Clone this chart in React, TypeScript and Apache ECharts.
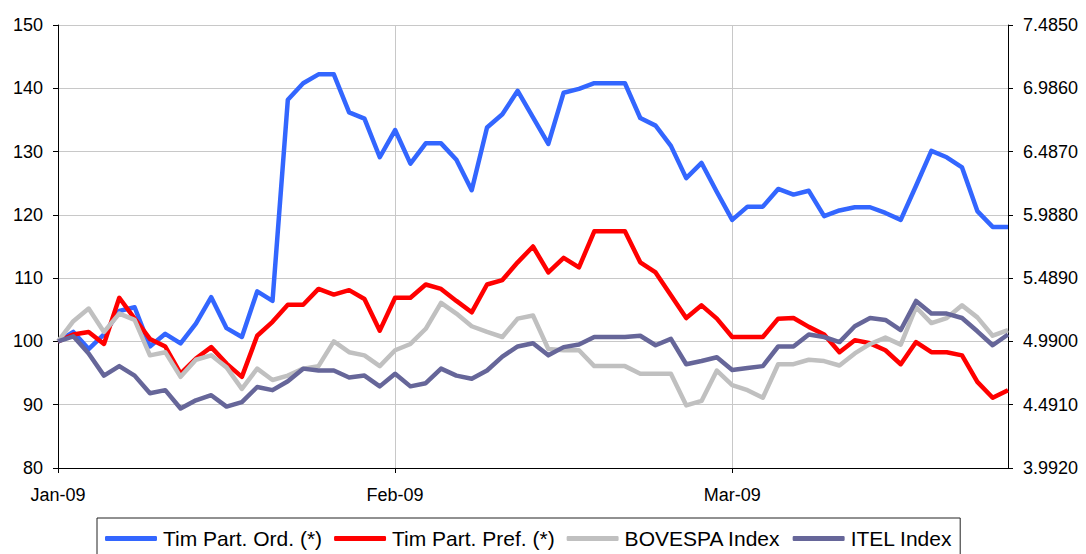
import React, { useEffect, useRef } from "react";
import * as echarts from "echarts";

const categories: string[] = [
  "2009-01-01", "2009-01-02", "2009-01-05", "2009-01-06", "2009-01-07", "2009-01-08", "2009-01-09",
  "2009-01-12", "2009-01-13", "2009-01-14", "2009-01-15", "2009-01-16",
  "2009-01-19", "2009-01-20", "2009-01-21", "2009-01-22", "2009-01-23",
  "2009-01-26", "2009-01-27", "2009-01-28", "2009-01-29", "2009-01-30",
  "2009-02-02", "2009-02-03", "2009-02-04", "2009-02-05", "2009-02-06",
  "2009-02-09", "2009-02-10", "2009-02-11", "2009-02-12", "2009-02-13",
  "2009-02-16", "2009-02-17", "2009-02-18", "2009-02-19", "2009-02-20",
  "2009-02-23", "2009-02-24", "2009-02-25", "2009-02-26", "2009-02-27",
  "2009-03-02", "2009-03-03", "2009-03-04", "2009-03-05", "2009-03-06",
  "2009-03-09", "2009-03-10", "2009-03-11", "2009-03-12", "2009-03-13",
  "2009-03-16", "2009-03-17", "2009-03-18", "2009-03-19", "2009-03-20",
  "2009-03-23", "2009-03-24", "2009-03-25", "2009-03-26", "2009-03-27",
  "2009-03-30",
];

const monthNames = ["Jan", "Feb", "Mar", "Apr", "May", "Jun", "Jul", "Aug", "Sep", "Oct", "Nov", "Dec"];

const timOrd: number[] = [
  100, 101.5, 98.8, 101.1, 104.8, 105.4, 99.2, 101.2, 99.7, 102.8,
  107, 102.1, 100.7, 107.9, 106.4, 138.2, 140.8, 142.2, 142.2, 136.2,
  135.2, 129.1, 133.4, 128.1, 131.3, 131.3, 128.7, 123.9, 133.8, 135.9,
  139.6, 135.4, 131.2, 139.3, 139.9, 140.8, 140.8, 140.8, 135.3, 134.1,
  130.9, 125.8, 128.2, 123.6, 119.2, 121.3, 121.3, 124.1, 123.2, 123.8,
  119.8, 120.7, 121.2, 121.2, 120.3, 119.2, 124.6, 130.1, 129.1, 127.5,
  120.6, 118.1, 118.1,
];

const timPref: number[] = [
  100, 101.1, 101.5, 99.6, 106.9, 103.6, 100.4, 99.2, 94.9, 97.3,
  99.1, 96.5, 94.4, 100.9, 103.1, 105.8, 105.8, 108.3, 107.4, 108.1,
  106.7, 101.7, 106.9, 106.9, 109.0, 108.3, 106.4, 104.6, 109.0, 109.7,
  112.5, 115.0, 110.9, 113.2, 111.7, 117.4, 117.4, 117.4, 112.5, 110.9,
  107.3, 103.7, 105.7, 103.6, 100.7, 100.7, 100.7, 103.6, 103.7, 102.3,
  101.1, 98.3, 100.2, 99.7, 98.6, 96.4, 99.9, 98.3, 98.3, 97.8,
  93.6, 91.1, 92.3,
];

const bovespa: number[] = [
  100, 103.2, 105.2, 101.5, 104.4, 103.4, 97.8, 98.3, 94.4, 97.1,
  97.8, 95.9, 92.5, 95.7, 93.9, 94.6, 95.7, 96.1, 100.0, 98.3,
  97.8, 96.1, 98.6, 99.6, 102.0, 106.1, 104.4, 102.4, 101.5, 100.7,
  103.6, 104.1, 98.8, 98.6, 98.6, 96.1, 96.1, 96.1, 94.9, 94.9,
  94.9, 89.9, 90.6, 95.4, 93.1, 92.3, 91.1, 96.4, 96.4, 97.1,
  96.9, 96.2, 98.1, 99.6, 100.6, 99.5, 105.4, 102.9, 103.7, 105.7,
  103.8, 100.9, 101.8,
];

const itel: number[] = [
  100, 100.8, 98.1, 94.6, 96.1, 94.6, 91.8, 92.3, 89.4, 90.7,
  91.5, 89.7, 90.4, 92.8, 92.3, 93.7, 95.7, 95.4, 95.4, 94.3,
  94.6, 92.9, 94.9, 92.9, 93.4, 95.7, 94.6, 94.1, 95.4, 97.6,
  99.2, 99.7, 97.8, 99.1, 99.5, 100.7, 100.7, 100.7, 100.9, 99.4,
  100.4, 96.4, 96.9, 97.5, 95.5, 95.8, 96.1, 99.2, 99.2, 101.1,
  100.7, 99.9, 102.4, 103.7, 103.4, 101.8, 106.4, 104.4, 104.4, 103.7,
  101.6, 99.4, 101.1,
];

const seriesNames = ["Tim Part. Ord. (*)", "Tim Part. Pref. (*)", "BOVESPA Index", "ITEL Index"];
const seriesColors = ["#3366FF", "#FF0000", "#C0C0C0", "#666699"];
const seriesData = [timOrd, timPref, bovespa, itel];

const leftMin = 80;
const leftMax = 150;
const leftStep = 10;
const rightMin = 3.992;
const rightMax = 7.485;
const rightStep = 0.499;

const FONT = "'Liberation Sans', Arial, sans-serif";

export default function App() {
  const ref = useRef<HTMLDivElement>(null);

  useEffect(() => {
    if (!ref.current) return;
    const chart = echarts.init(ref.current, undefined, { renderer: "svg" });
    const option: any = {
      animation: false,
      backgroundColor: "#FFFFFF",
      textStyle: { fontFamily: FONT, color: "#000" },
      grid: { left: 58, right: 78, top: 25, bottom: 86, containLabel: false },
      legend: {
        data: seriesNames,
        left: 97,
        top: 518,
        orient: "horizontal",
        padding: [10, 8, 10, 8],
        itemGap: 12,
        itemWidth: 52,
        itemHeight: 5,
        icon: "roundRect",
        borderColor: "#222",
        borderWidth: 1,
        textStyle: { fontFamily: FONT, fontSize: 21, color: "#000", padding: [0, 0, 0, 1] },
      },
      xAxis: {
        type: "category",
        data: categories,
        boundaryGap: false,
        axisLine: { lineStyle: { color: "#000", width: 1 } },
        axisTick: { show: true, interval: 21, length: 5, lineStyle: { color: "#000" } },
        axisLabel: {
          interval: 21,
          margin: 18,
          fontSize: 18,
          fontFamily: FONT,
          color: "#000",
          formatter: (v: string) => {
            const [y, m] = v.split("-");
            return monthNames[parseInt(m, 10) - 1] + "-" + y.slice(2);
          },
        },
        splitLine: { show: true, interval: 21, lineStyle: { color: "#C8C8C8", width: 1 } },
      },
      yAxis: [
        {
          type: "value",
          position: "left",
          min: leftMin,
          max: leftMax,
          interval: leftStep,
          axisLine: { show: true, lineStyle: { color: "#000", width: 1 } },
          axisTick: { show: true, length: 5, lineStyle: { color: "#000" } },
          axisLabel: { margin: 15, fontSize: 18, fontFamily: FONT, color: "#000" },
          splitLine: { show: true, lineStyle: { color: "#C8C8C8", width: 1 } },
        },
        {
          type: "value",
          position: "right",
          min: rightMin,
          max: rightMax,
          interval: rightStep,
          axisLine: { show: true, lineStyle: { color: "#000", width: 1 } },
          axisTick: { show: true, length: 5, lineStyle: { color: "#000" } },
          axisLabel: {
            margin: 15,
            fontSize: 18,
            fontFamily: FONT,
            color: "#000",
            formatter: (v: number) => v.toFixed(4),
          },
          splitLine: { show: false },
        },
      ],
      series: seriesNames.map((name, i) => ({
        name,
        type: "line",
        data: seriesData[i],
        yAxisIndex: 0,
        showSymbol: false,
        symbol: "none",
        lineStyle: { color: seriesColors[i], width: 4.5, join: "round" },
        itemStyle: { color: seriesColors[i] },
        z: 2 + i,
      })),
    };
    chart.setOption(option);
    return () => chart.dispose();
  }, []);

  return (
    <div
      ref={ref}
      style={{ position: "fixed", left: 0, top: 0, width: 1086, height: 554, background: "#fff" }}
    />
  );
}
